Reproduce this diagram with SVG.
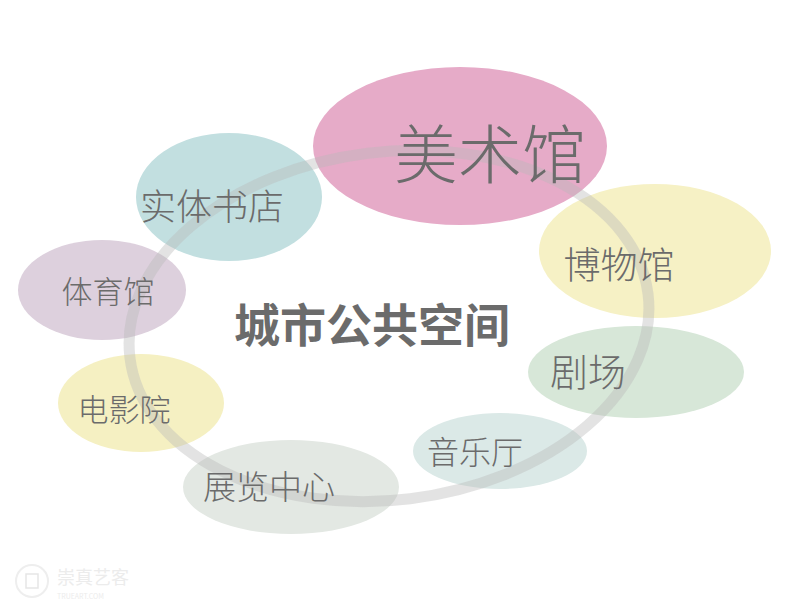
<svg xmlns="http://www.w3.org/2000/svg" width="800" height="616" viewBox="0 0 800 616">
<style>
.t{font-family:"Noto Sans CJK SC","Noto Sans",sans-serif;font-weight:300;fill:#6b6b6b;text-anchor:middle}
.ring{fill:none;stroke:#b8b8b8;stroke-opacity:0.4;stroke-width:11}
.wm{font-family:"Noto Sans CJK SC","Liberation Sans",sans-serif;fill:#ececec}
</style>
<rect width="800" height="616" fill="#ffffff"/>
<g id="nodes-shapes">
<g id="n-meishuguan"><ellipse cx="460" cy="146" rx="147" ry="79" fill="#e6abc8"/></g>
<g id="n-shuti"><ellipse cx="229" cy="197" rx="93" ry="64" fill="#c2dfe0"/></g>
<g id="n-tiyu"><ellipse cx="102" cy="290" rx="84" ry="50" fill="#ddd0dd"/></g>
<g id="n-dianying"><ellipse cx="141" cy="403" rx="83" ry="49" fill="#f5f0c2"/></g>
<g id="n-zhanlan"><ellipse cx="291" cy="487" rx="108" ry="47" fill="#e3e8e3"/></g>
<g id="n-yinyue"><ellipse cx="500" cy="451" rx="87" ry="38" fill="#dbe9e7"/></g>
<g id="n-juchang"><ellipse cx="636" cy="372" rx="108" ry="46" fill="#d7e7d8"/></g>
<g id="n-bowu"><ellipse cx="655" cy="251" rx="116" ry="67" fill="#f6f1c5"/></g>
</g>
<g id="connectors">
<ellipse class="ring" cx="389" cy="326" rx="261" ry="174" transform="rotate(-7 389 326)"/>
</g>
<g id="labels">
<text class="t" x="490" y="178" font-size="64">美术馆</text>
<text class="t" x="212" y="220" font-size="36">实体书店</text>
<text class="t" x="108" y="303" font-size="31">体育馆</text>
<text class="t" x="124" y="421" font-size="31">电影院</text>
<text class="t" x="269" y="499" font-size="33">展览中心</text>
<text class="t" x="475" y="464" font-size="32">音乐厅</text>
<text class="t" x="588" y="386" font-size="38">剧场</text>
<text class="t" x="619" y="279" font-size="37">博物馆</text>
<text class="t" x="372" y="342" font-size="46" style="font-weight:bold">城市公共空间</text>
</g>
<g id="watermark">
<circle cx="32" cy="581" r="16" fill="none" stroke="#eeeeee" stroke-width="2"/>
<rect x="26" y="574" width="12" height="14" fill="none" stroke="#e6e6e6" stroke-width="1.5"/>
<text class="wm" x="57" y="584" font-size="18">崇真艺客</text>
<text class="wm" x="57" y="599" font-size="7">TRUEART.COM</text>
</g>
</svg>
